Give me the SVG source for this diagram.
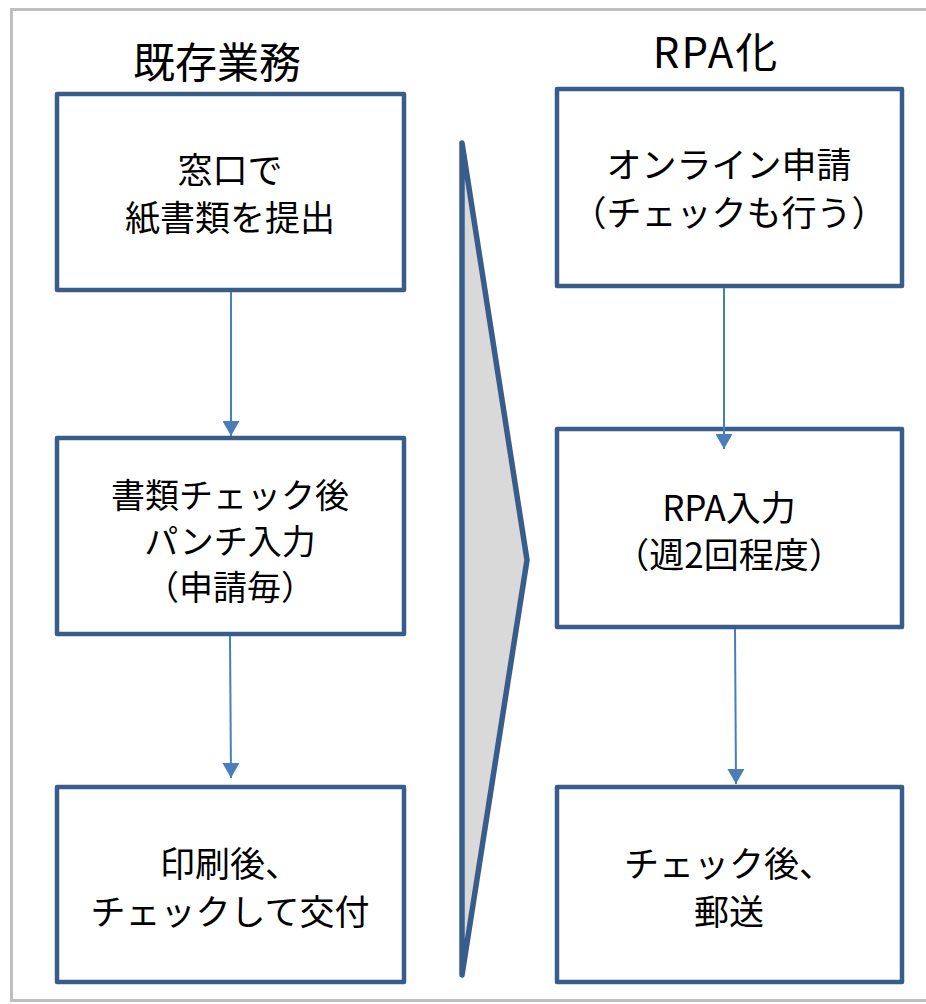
<svg xmlns="http://www.w3.org/2000/svg" width="926" height="1004" viewBox="0 0 926 1004">
<defs>
<style>
.frame{fill:#ffffff;stroke:#bfbfbf;stroke-width:3}
.box{fill:#ffffff;stroke:#385d8a;stroke-width:4.5;stroke-linejoin:round}
.chev{fill:#d9d9d9;stroke:#385d8a;stroke-width:5.5;stroke-linejoin:round}
.conn{fill:none;stroke:#4a7ebb;stroke-width:2}
.t{font-family:"Noto Sans CJK JP","Noto Sans",sans-serif;font-size:35px;fill:#000000;text-anchor:middle}
.t3{font-family:"Noto Sans CJK JP","Noto Sans",sans-serif;font-size:34px;fill:#000000;text-anchor:middle}
.title{font-family:"Noto Sans CJK JP","Noto Sans",sans-serif;font-size:42px;fill:#000000;text-anchor:middle}
</style>
<marker id="ah" markerUnits="userSpaceOnUse" markerWidth="16" markerHeight="17" refX="15" refY="8.5" orient="auto" viewBox="0 0 16 17">
<path d="M0,0 L15,8.5 L0,17 z" fill="#4a7ebb"/>
</marker>
</defs>
<rect class="frame" x="11.5" y="9.5" width="930" height="991"/>
<text class="title" x="217" y="78">既存業務</text>
<text class="title" x="716" y="68" letter-spacing="2">RPA化</text>
<g id="chevron">
<polygon class="chev" points="462,143 527,560 462,975"/>
</g>
<g id="node-l1">
<rect class="box" x="57" y="94" width="347" height="196"/>
<text class="t" x="230" y="183">窓口で</text>
<text class="t" x="230" y="231">紙書類を提出</text>
</g>
<g id="node-l2">
<rect class="box" x="57" y="438" width="347" height="196"/>
<text class="t3" x="230" y="508">書類チェック後</text>
<text class="t3" x="230" y="554">パンチ入力</text>
<text class="t3" x="230" y="600">（申請毎）</text>
</g>
<g id="node-l3">
<rect class="box" x="57" y="787" width="347" height="195"/>
<text class="t" x="230" y="877">印刷後、</text>
<text class="t" x="230" y="925">チェックして交付</text>
</g>
<g id="node-r1">
<rect class="box" x="557" y="89" width="345" height="197"/>
<text class="t" x="729" y="178">オンライン申請</text>
<text class="t" x="729" y="226">（チェックも行う）</text>
</g>
<g id="node-r2">
<rect class="box" x="557" y="429" width="345" height="198"/>
<text class="t" x="729" y="521">RPA入力</text>
<text class="t" x="729" y="568">（週2回程度）</text>
</g>
<g id="node-r3">
<rect class="box" x="557" y="787" width="345" height="195"/>
<text class="t" x="729" y="877">チェック後、</text>
<text class="t" x="729" y="925">郵送</text>
</g>
<g id="connectors">
<line class="conn" x1="231" y1="292" x2="231" y2="436" marker-end="url(#ah)"/>
<line class="conn" x1="230" y1="636" x2="231" y2="778" marker-end="url(#ah)"/>
<line class="conn" x1="724" y1="288" x2="724" y2="449" marker-end="url(#ah)"/>
<line class="conn" x1="735" y1="629" x2="736" y2="784" marker-end="url(#ah)"/>
</g>
</svg>
